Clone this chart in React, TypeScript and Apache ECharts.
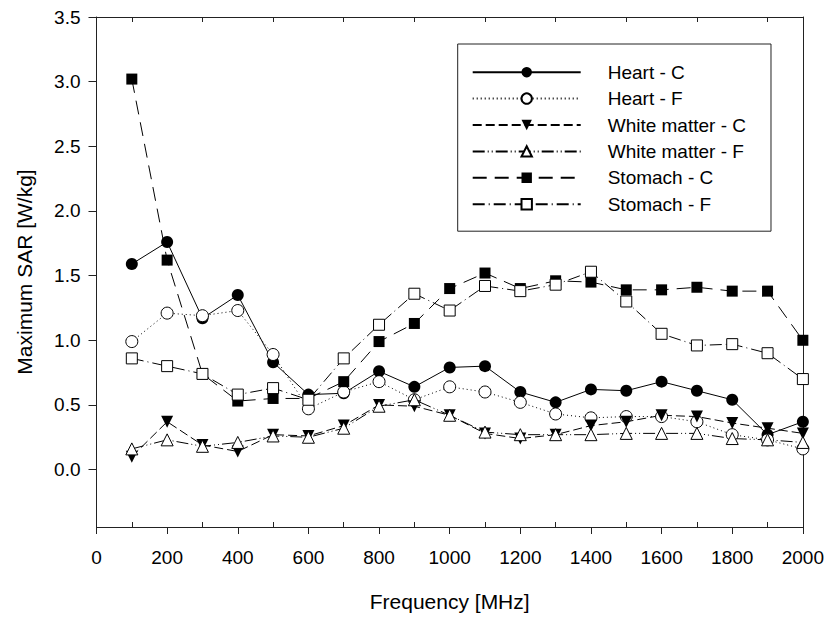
import React, { useEffect, useRef } from "react";
import * as echarts from "echarts";

const frequencies = [100, 200, 300, 400, 500, 600, 700, 800, 900, 1000, 1100, 1200, 1300, 1400, 1500, 1600, 1700, 1800, 1900, 2000];

const heartC = [1.59, 1.76, 1.17, 1.35, 0.83, 0.58, 0.59, 0.76, 0.64, 0.79, 0.80, 0.60, 0.52, 0.62, 0.61, 0.68, 0.61, 0.54, 0.27, 0.37];
const heartF = [0.99, 1.21, 1.19, 1.23, 0.89, 0.47, 0.60, 0.68, 0.54, 0.64, 0.60, 0.52, 0.43, 0.40, 0.41, 0.41, 0.37, 0.27, 0.23, 0.16];
const whiteMatterC = [0.10, 0.37, 0.19, 0.14, 0.27, 0.26, 0.34, 0.50, 0.49, 0.42, 0.28, 0.24, 0.27, 0.34, 0.37, 0.42, 0.41, 0.36, 0.32, 0.28];
const whiteMatterF = [0.16, 0.23, 0.18, 0.21, 0.26, 0.25, 0.32, 0.49, 0.54, 0.42, 0.29, 0.27, 0.27, 0.27, 0.28, 0.28, 0.28, 0.24, 0.23, 0.21];
const stomachC = [3.02, 1.62, 0.74, 0.53, 0.55, 0.55, 0.68, 0.99, 1.13, 1.40, 1.52, 1.40, 1.46, 1.45, 1.39, 1.39, 1.41, 1.38, 1.38, 1.00];
const stomachF = [0.86, 0.80, 0.74, 0.58, 0.63, 0.54, 0.86, 1.12, 1.36, 1.23, 1.42, 1.38, 1.43, 1.53, 1.30, 1.05, 0.96, 0.97, 0.90, 0.70];

const yTickValues = [0, 0.5, 1.0, 1.5, 2.0, 2.5, 3.0, 3.5];
const xMinorTicks = [100, 300, 500, 700, 900, 1100, 1300, 1500, 1700, 1900];

const FONT = "Liberation Sans, Arial, sans-serif";

type SeriesDef = {
  name: string;
  values: number[];
  symbol: string;
  size: number;
  rotate: number;
  filled: boolean;
  dash: "solid" | number[];
};

const seriesDefs: SeriesDef[] = [
  { name: "Heart - C", values: heartC, symbol: "circle", size: 12, rotate: 0, filled: true, dash: "solid" },
  { name: "Heart - F", values: heartF, symbol: "circle", size: 12, rotate: 0, filled: false, dash: [1, 3] },
  { name: "White matter - C", values: whiteMatterC, symbol: "triangle", size: 12, rotate: 180, filled: true, dash: [9, 4] },
  { name: "White matter - F", values: whiteMatterF, symbol: "triangle", size: 12, rotate: 0, filled: false, dash: [12, 3, 1, 3, 1, 3] },
  { name: "Stomach - C", values: stomachC, symbol: "rect", size: 11, rotate: 0, filled: true, dash: [14, 8] },
  { name: "Stomach - F", values: stomachF, symbol: "rect", size: 11, rotate: 0, filled: false, dash: [12, 4, 1, 4] },
];

export default function App() {
  const ref = useRef<HTMLDivElement>(null);

  useEffect(() => {
    if (!ref.current) return;
    const chart = echarts.init(ref.current, undefined, { renderer: "svg" });
    const axisColor = "#222";

    const series = seriesDefs.map((d) => ({
      name: d.name,
      type: "line",
      data: frequencies.map((f, i) => [f, d.values[i]]),
      symbol: d.symbol,
      symbolSize: d.size,
      symbolRotate: d.rotate,
      showAllSymbol: true,
      xAxisIndex: 0,
      yAxisIndex: 0,
      lineStyle: { color: "#000", width: 1, type: d.dash },
      itemStyle: d.filled
        ? { color: "#000", borderColor: "#000", borderWidth: 0 }
        : { color: "#fff", borderColor: "#000", borderWidth: 1 },
      emphasis: { disabled: true },
    }));

    chart.setOption({
      animation: false,
      backgroundColor: "#fff",
      textStyle: { fontFamily: FONT },
      grid: { left: 96.5, right: 22.5, top: 17, bottom: 91, containLabel: false },
      legend: {
        orient: "vertical",
        left: 457.7,
        top: 44,
        itemWidth: 108,
        itemHeight: 13,
        itemGap: 7.4,
        padding: [18.7, 25, 17.5, 14],
        borderColor: "#222",
        borderWidth: 1,
        selectedMode: false,
        textStyle: {
          fontFamily: FONT,
          fontSize: 19,
          color: "#000",
          lineHeight: 13,
          padding: [0, 0, 0, 22],
        },
        data: seriesDefs.map((d) => d.name),
      },
      xAxis: [
        {
          type: "value",
          position: "bottom",
          min: 0,
          max: 2000,
          interval: 200,
          axisLine: { show: true, onZero: false, lineStyle: { color: axisColor, width: 1 } },
          axisTick: { show: true, inside: false, length: 7, lineStyle: { color: axisColor } },
          axisLabel: {
            fontFamily: FONT,
            fontSize: 19,
            color: "#000",
            margin: 21,
            formatter: (v: number) => String(v),
          },
          splitLine: { show: false },
          name: "Frequency [MHz]",
          nameLocation: "middle",
          nameGap: 64,
          nameTextStyle: { fontFamily: FONT, fontSize: 21, color: "#000" },
        },
        {
          type: "value",
          position: "bottom",
          min: 0,
          max: 2000,
          axisLine: { show: false, onZero: false },
          axisTick: { show: true, inside: true, length: 5, customValues: xMinorTicks, lineStyle: { color: axisColor } },
          axisLabel: { show: false },
          splitLine: { show: false },
        },
        {
          type: "value",
          position: "top",
          min: 0,
          max: 2000,
          axisLine: { show: true, onZero: false, lineStyle: { color: axisColor, width: 1 } },
          axisTick: { show: true, inside: true, length: 5, customValues: xMinorTicks, lineStyle: { color: axisColor } },
          axisLabel: { show: false },
          splitLine: { show: false },
        },
      ],
      yAxis: [
        {
          type: "value",
          position: "left",
          min: -0.444,
          max: 3.5,
          axisLine: { show: true, onZero: false, lineStyle: { color: axisColor, width: 1 } },
          axisTick: { show: true, inside: false, length: 8, customValues: yTickValues, lineStyle: { color: axisColor } },
          axisLabel: {
            fontFamily: FONT,
            fontSize: 19,
            color: "#000",
            margin: 16,
            customValues: yTickValues,
            formatter: (v: number) => v.toFixed(1),
          },
          splitLine: { show: false },
          name: "Maximum SAR [W/kg]",
          nameLocation: "middle",
          nameGap: 62,
          nameTextStyle: { fontFamily: FONT, fontSize: 21, color: "#000" },
        },
        {
          type: "value",
          position: "right",
          min: -0.444,
          max: 3.5,
          axisLine: { show: true, onZero: false, lineStyle: { color: axisColor, width: 1 } },
          axisTick: { show: false },
          axisLabel: { show: false },
          splitLine: { show: false },
        },
      ],
      series,
    });

    return () => chart.dispose();
  }, []);

  return (
    <div
      ref={ref}
      style={{ position: "fixed", left: 0, top: 0, width: 827, height: 618, background: "#fff" }}
    />
  );
}
